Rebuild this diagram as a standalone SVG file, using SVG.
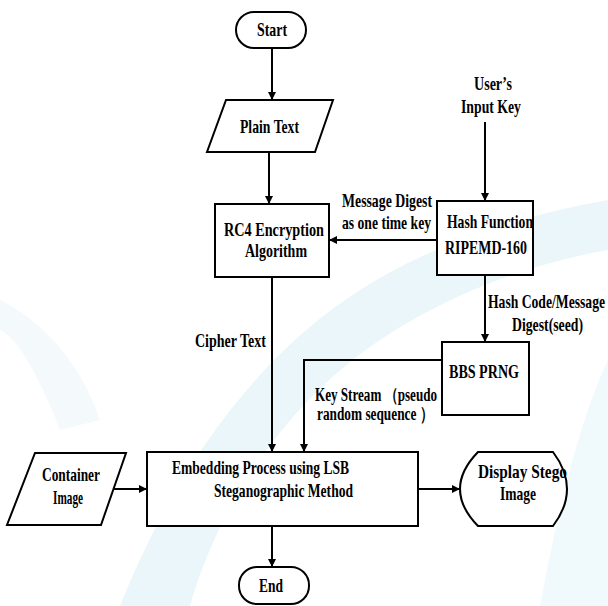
<svg xmlns="http://www.w3.org/2000/svg" width="608" height="606" viewBox="0 0 608 606">
<style>
.n{fill:#fff;stroke:#000;stroke-width:2}
.t{font-family:"Liberation Serif","Times New Roman",serif;font-weight:bold;font-size:19px;fill:#000}
.s{font-size:18px}
.e{fill:none;stroke:#000;stroke-width:2}
.w{fill:#eaf6f9;stroke:none}
</style>
<defs>
<marker id="ah" viewBox="0 0 10 10" refX="10" refY="5" markerWidth="9" markerHeight="8" markerUnits="userSpaceOnUse" orient="auto">
<path d="M0,0 L10,5 L0,10 Z" fill="#000"/>
</marker>
</defs>
<rect width="608" height="606" fill="#fff"/>
<g id="watermark">
<path class="w" d="M120,606 C170,480 250,360 360,290 C430,245 520,215 608,200 L608,250 C520,265 440,300 380,340 C290,400 220,500 190,606 Z"/>
<path class="w" d="M540,606 C560,500 580,420 608,360 L608,606 Z" opacity="0.7"/>
<path class="w" d="M0,300 C40,320 80,360 100,420 L60,430 C40,380 20,340 0,330 Z" opacity="0.5"/>
</g>
<g id="connectors">
<line class="e" x1="272" y1="48" x2="272" y2="100" marker-end="url(#ah)"/>
<line class="e" x1="269" y1="152" x2="269" y2="204" marker-end="url(#ah)"/>
<line class="e" x1="437" y1="240" x2="329" y2="240" marker-end="url(#ah)"/>
<line class="e" x1="485" y1="122" x2="485" y2="201" marker-end="url(#ah)"/>
<line class="e" x1="485" y1="275" x2="485" y2="342" marker-end="url(#ah)"/>
<path class="e" d="M442,360 H304 V452" marker-end="url(#ah)"/>
<line class="e" x1="272" y1="277" x2="272" y2="452" marker-end="url(#ah)"/>
<line class="e" x1="113" y1="489" x2="147" y2="489" marker-end="url(#ah)"/>
<line class="e" x1="418" y1="489" x2="460" y2="489" marker-end="url(#ah)"/>
<line class="e" x1="272" y1="526" x2="272" y2="567" marker-end="url(#ah)"/>
<text class="t" x="342" y="207" textLength="90" lengthAdjust="spacingAndGlyphs">Message Digest</text>
<text class="t" x="342" y="229" textLength="89" lengthAdjust="spacingAndGlyphs">as one time key</text>
<text class="t" x="488" y="308" textLength="117" lengthAdjust="spacingAndGlyphs">Hash Code/Message</text>
<text class="t" x="512" y="331" textLength="71" lengthAdjust="spacingAndGlyphs">Digest(seed)</text>
<text class="t" x="195" y="347" textLength="71" lengthAdjust="spacingAndGlyphs">Cipher Text</text>
<text class="t s" x="315" y="401" textLength="122" lengthAdjust="spacingAndGlyphs">Key Stream （pseudo</text>
<text class="t s" x="317" y="420" textLength="116" lengthAdjust="spacingAndGlyphs">random sequence  ）</text>
</g>
<g id="start">
<rect class="n" x="236" y="12" width="70" height="36" rx="18"/>
<text class="t" x="257" y="36" textLength="30" lengthAdjust="spacingAndGlyphs">Start</text>
</g>
<g id="plain-text">
<polygon class="n" points="226,100 333,100 315,152 207,152"/>
<text class="t" x="240" y="133" textLength="59" lengthAdjust="spacingAndGlyphs">Plain Text</text>
</g>
<g id="user-key">
<text class="t" x="474" y="90" textLength="38" lengthAdjust="spacingAndGlyphs">User’s</text>
<text class="t" x="461" y="113" textLength="60" lengthAdjust="spacingAndGlyphs">Input Key</text>
</g>
<g id="rc4">
<rect class="n" x="215" y="204" width="114" height="73"/>
<text class="t" x="224" y="236" textLength="100" lengthAdjust="spacingAndGlyphs">RC4 Encryption</text>
<text class="t" x="245" y="257" textLength="62" lengthAdjust="spacingAndGlyphs">Algorithm</text>
</g>
<g id="hash">
<rect class="n" x="437" y="201" width="96" height="74"/>
<text class="t" x="447" y="228" textLength="86" lengthAdjust="spacingAndGlyphs">Hash Function</text>
<text class="t" x="445" y="254" textLength="82" lengthAdjust="spacingAndGlyphs">RIPEMD-160</text>
</g>
<g id="bbs">
<rect class="n" x="442" y="342" width="87" height="73"/>
<text class="t" x="449" y="378" textLength="70" lengthAdjust="spacingAndGlyphs">BBS PRNG</text>
</g>
<g id="container">
<polygon class="n" points="35,453 126,453 101,525 7,525"/>
<text class="t" x="42" y="481" textLength="58" lengthAdjust="spacingAndGlyphs">Container</text>
<text class="t" x="53" y="504" textLength="30" lengthAdjust="spacingAndGlyphs">Image</text>
</g>
<g id="embedding">
<rect class="n" x="147" y="452" width="271" height="74"/>
<text class="t" x="172" y="474" textLength="177" lengthAdjust="spacingAndGlyphs">Embedding Process using LSB</text>
<text class="t" x="214" y="497" textLength="139" lengthAdjust="spacingAndGlyphs">Steganographic Method</text>
</g>
<g id="display">
<path class="n" d="M478,452 L553,452 Q581,489 553,526 L478,526 Q442,489 478,452 Z"/>
<text class="t" x="478" y="478" textLength="89" lengthAdjust="spacingAndGlyphs">Display Stego</text>
<text class="t" x="500" y="500" textLength="36" lengthAdjust="spacingAndGlyphs">Image</text>
</g>
<g id="end">
<rect class="n" x="239" y="567" width="70" height="37" rx="18"/>
<text class="t" x="259" y="592" textLength="24" lengthAdjust="spacingAndGlyphs">End</text>
</g>
</svg>
